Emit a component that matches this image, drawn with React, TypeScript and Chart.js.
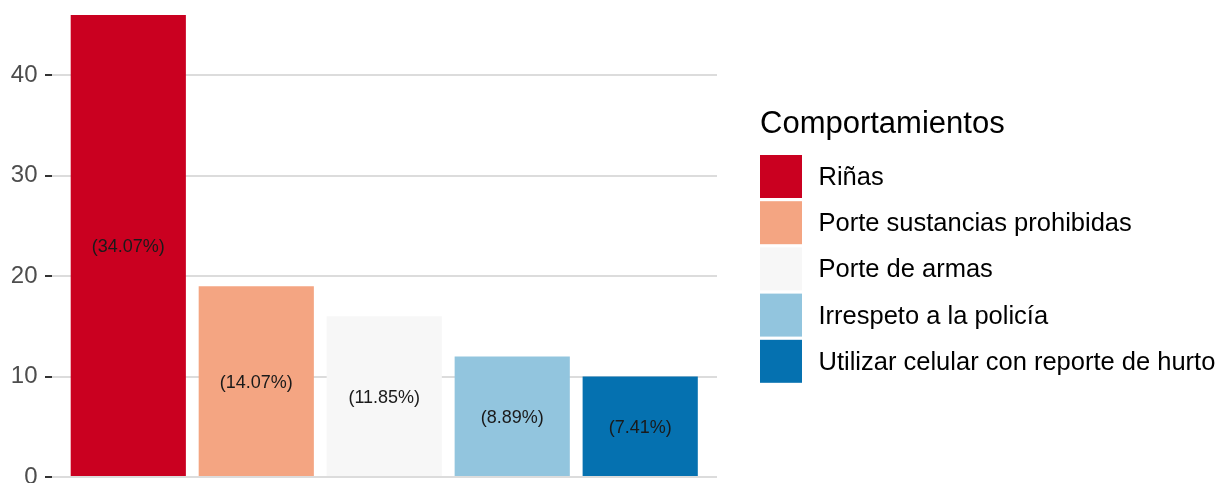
import React, { useEffect, useRef } from "react";
import { Chart, registerables } from "chart.js";

Chart.register(...registerables);

const categories = [
  "Riñas",
  "Porte sustancias prohibidas",
  "Porte de armas",
  "Irrespeto a la policía",
  "Utilizar celular con reporte de hurto",
];
const counts = [46, 19, 16, 12, 10];
const pctLabels = ["(34.07%)", "(14.07%)", "(11.85%)", "(8.89%)", "(7.41%)"];
const colors = ["#CA0020", "#F4A582", "#F7F7F7", "#92C5DE", "#0571B0"];
const yTicks = [0, 10, 20, 30, 40];
const legendTitle = "Comportamientos";

const FONT = "'Liberation Sans', Arial, Helvetica, sans-serif";
const CANVAS_W = 1225;
const PAD_V = 30;
const CANVAS_H = 508 + 2 * PAD_V;
const OFFSET_Y = PAD_V + 8.5; // canvas shifted up by this many px

export default function App() {
  const ref = useRef<HTMLCanvasElement | null>(null);

  useEffect(() => {
    if (!ref.current) return;

    const labelPlugin = {
      id: "barLabels",
      afterDatasetsDraw(chart: any) {
        const ctx = chart.ctx;
        const meta = chart.getDatasetMeta(0);
        ctx.save();
        ctx.font = `18px ${FONT}`;
        ctx.fillStyle = "#1a1a1a";
        ctx.textAlign = "center";
        ctx.textBaseline = "middle";
        meta.data.forEach((el: any, i: number) => {
          const p = el.getProps(["x", "y", "base"], true);
          ctx.fillText(pctLabels[i], p.x, (p.y + p.base) / 2 + 2);
        });
        ctx.restore();
      },
    };

    const legendPlugin = {
      id: "sideLegend",
      afterDraw(chart: any) {
        const ctx = chart.ctx;
        ctx.save();
        const x0 = 760;
        ctx.fillStyle = "#000000";
        ctx.textAlign = "left";
        ctx.textBaseline = "middle";
        ctx.font = `31px ${FONT}`;
        ctx.fillText(legendTitle, x0, 123.5 + OFFSET_Y);
        ctx.font = `25.5px ${FONT}`;
        categories.forEach((c, i) => {
          const top = 154.5 + i * 46.2 + OFFSET_Y;
          ctx.fillStyle = colors[i];
          ctx.fillRect(x0, top, 42, 43);
          ctx.fillStyle = "#000000";
          ctx.fillText(c, 818.5, top + 23);
        });
        ctx.restore();
      },
    };

    const chart = new Chart(ref.current, {
      type: "bar",
      data: {
        datasets: [
          {
            data: counts.map((v, i) => ({ x: i, y: v })),
            backgroundColor: colors,
            borderWidth: 0,
            barPercentage: 0.9,
            categoryPercentage: 1.0,
          },
        ],
      },
      options: {
        responsive: false,
        animation: false,
        devicePixelRatio: 1,
        layout: { padding: { left: 0, right: CANVAS_W - 717, top: PAD_V, bottom: PAD_V } },
        plugins: {
          legend: { display: false },
          tooltip: { enabled: false },
        },
        scales: {
          x: {
            type: "linear",
            min: -0.6,
            max: 4.6,
            offset: false,
            display: false,
            grid: { display: false, offset: false },
            afterBuildTicks(scale: any) {
              scale.ticks = categories.map((_, i) => ({ value: i }));
            },
          },
          y: {
            type: "linear",
            min: -2.3,
            max: 48.3,
            afterBuildTicks(scale: any) {
              scale.ticks = yTicks.map((v) => ({ value: v }));
            },
            afterFit(scale: any) {
              scale.width = 51.5;
            },
            border: { display: false },
            grid: {
              color: "#dcdcdc",
              lineWidth: 2,
              drawTicks: true,
              tickLength: 6.5,
              tickColor: "#333333",
              tickWidth: 2,
            },
            ticks: {
              color: "#4d4d4d",
              font: { family: FONT, size: 24 },
              padding: 7.5,
            },
          },
        },
      },
      plugins: [labelPlugin, legendPlugin],
    });

    return () => chart.destroy();
  }, []);

  return (
    <div
      style={{
        position: "fixed",
        left: 0,
        top: 0,
        width: CANVAS_W,
        height: 483,
        overflow: "hidden",
        background: "#ffffff",
      }}
    >
      <canvas
        ref={ref}
        width={CANVAS_W}
        height={CANVAS_H}
        style={{ position: "absolute", left: 0, top: -OFFSET_Y, display: "block" }}
      />
    </div>
  );
}
